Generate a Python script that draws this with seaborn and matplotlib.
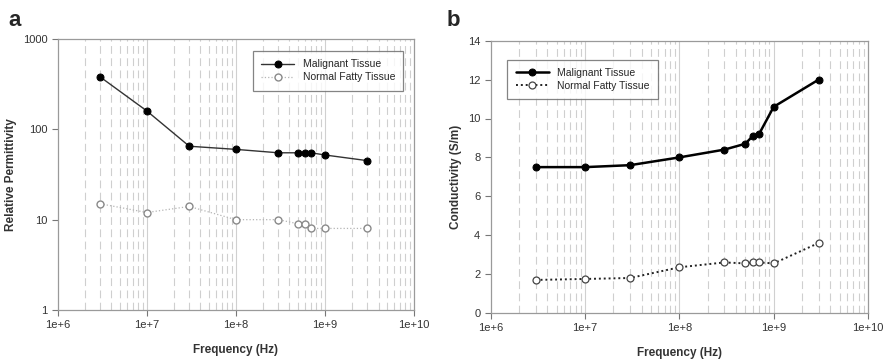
import numpy as np
import pandas as pd
import matplotlib
matplotlib.use("Agg")
import matplotlib.pyplot as plt
import seaborn as sns
from matplotlib.ticker import FixedLocator, LogLocator, NullFormatter

freq = [3e6, 1e7, 3e7, 1e8, 3e8, 5e8, 6e8, 7e8, 1e9, 3e9]
perm_malignant = [380, 160, 65, 60, 55, 55, 55, 55, 52, 45]
perm_normal = [15, 12, 14, 10, 10, 9, 9, 8, 8, 8]
cond_malignant = [7.5, 7.5, 7.6, 8.0, 8.4, 8.7, 9.1, 9.2, 10.6, 12.0]
cond_normal = [1.7, 1.75, 1.8, 2.35, 2.6, 2.55, 2.6, 2.6, 2.55, 3.6]
x_ticks = [1e6, 1e7, 1e8, 1e9, 1e10]
x_ticklabels = ["1e+6", "1e+7", "1e+8", "1e+9", "1e+10"]

sns.set_style("white")
plt.rcParams['font.family'] = ['Liberation Sans', 'DejaVu Sans']

fig = plt.figure(figsize=(8.87, 3.59), dpi=100)
W, H = 887, 359
axA = fig.add_axes([57.7 / W, 1 - 310 / H, (414 - 57.7) / W, (310 - 39) / H])
axB = fig.add_axes([490.7 / W, 1 - 313 / H, (868 - 490.7) / W, (313 - 40.7) / H])


def style_axes(ax):
    ax.set_xscale("log")
    ax.set_xlim(1e6, 1e10)
    ax.xaxis.set_major_locator(FixedLocator(x_ticks))
    ax.set_xticklabels(x_ticklabels)
    ax.xaxis.set_minor_locator(LogLocator(base=10, subs=np.arange(2, 10)))
    ax.xaxis.set_minor_formatter(NullFormatter())
    ax.grid(False)
    for v in x_ticks[1:-1]:
        ax.axvline(v, color="#d0d0d0", lw=0.8, zorder=0)
    for dec in [1e6, 1e7, 1e8, 1e9]:
        for s in range(2, 10):
            ax.axvline(dec * s, color="#cfcfcf", lw=0.8, ls=(0, (7, 4)), zorder=0)
    for sp in ax.spines.values():
        sp.set_color("#9a9a9a")
        sp.set_linewidth(0.9)
    ax.tick_params(axis="both", which="major", length=4, width=0.8, color="#777777",
                   labelsize=8, labelcolor="#333333", direction="out", bottom=True, left=True)
    ax.tick_params(axis="x", which="minor", length=0)
    ax.set_xlabel("Frequency (Hz)", fontsize=8.5, fontweight="bold", color="#333333", labelpad=10)


df_a = pd.DataFrame({"f": freq, "m": perm_malignant, "n": perm_normal})
sns.lineplot(data=df_a, x="f", y="m", ax=axA, color="#333333", lw=1.0, marker="o",
             markersize=5, markerfacecolor="black", markeredgecolor="black",
             label="Malignant Tissue", zorder=3)
sns.lineplot(data=df_a, x="f", y="n", ax=axA, color="#b5b5b5", lw=0.9, ls=":", marker="o",
             markersize=5, markerfacecolor="white", markeredgecolor="#8a8a8a",
             markeredgewidth=1.0, label="Normal Fatty Tissue", zorder=3)
style_axes(axA)
axA.set_yscale("log")
axA.set_ylim(1, 1000)
axA.yaxis.set_major_locator(FixedLocator([1, 10, 100, 1000]))
axA.set_yticklabels(["1", "10", "100", "1000"])
axA.yaxis.set_minor_formatter(NullFormatter())
axA.tick_params(axis="y", which="minor", length=0)
axA.set_ylabel("Relative Permittivity", fontsize=8.5, fontweight="bold", color="#333333")
legA = axA.legend(loc="upper right", bbox_to_anchor=(0.985, 0.975), fontsize=7.5,
                  frameon=True, fancybox=False, borderpad=0.8, handlelength=3.2,
                  labelspacing=0.3)
legA.get_frame().set_edgecolor("#666666")
legA.get_frame().set_linewidth(0.9)

df_b = pd.DataFrame({"f": freq, "m": cond_malignant, "n": cond_normal})
sns.lineplot(data=df_b, x="f", y="m", ax=axB, color="black", lw=1.8, marker="o",
             markersize=5, markerfacecolor="black", markeredgecolor="black",
             label="Malignant Tissue", zorder=3)
sns.lineplot(data=df_b, x="f", y="n", ax=axB, color="#222222", lw=1.4, ls=(0, (1, 1.5)), marker="o",
             markersize=5, markerfacecolor="white", markeredgecolor="#444444",
             markeredgewidth=0.9, label="Normal Fatty Tissue", zorder=3)
style_axes(axB)
axB.set_ylim(0, 14)
axB.yaxis.set_major_locator(FixedLocator([0, 2, 4, 6, 8, 10, 12, 14]))
axB.set_ylabel("Conductivity (S/m)", fontsize=8.5, fontweight="bold", color="#333333")
legB = axB.legend(loc="upper left", bbox_to_anchor=(0.03, 0.95), fontsize=7.5,
                  frameon=True, fancybox=False, borderpad=0.8, handlelength=3.2,
                  labelspacing=0.3)
legB.get_frame().set_edgecolor("#666666")
legB.get_frame().set_linewidth(0.9)

fig.text(8 / W, 1 - 20 / H, "a", fontsize=16, fontweight="bold", va="center", ha="left")
fig.text(447 / W, 1 - 20 / H, "b", fontsize=16, fontweight="bold", va="center", ha="left")

fig.savefig("out.png", dpi=100, facecolor="white")
